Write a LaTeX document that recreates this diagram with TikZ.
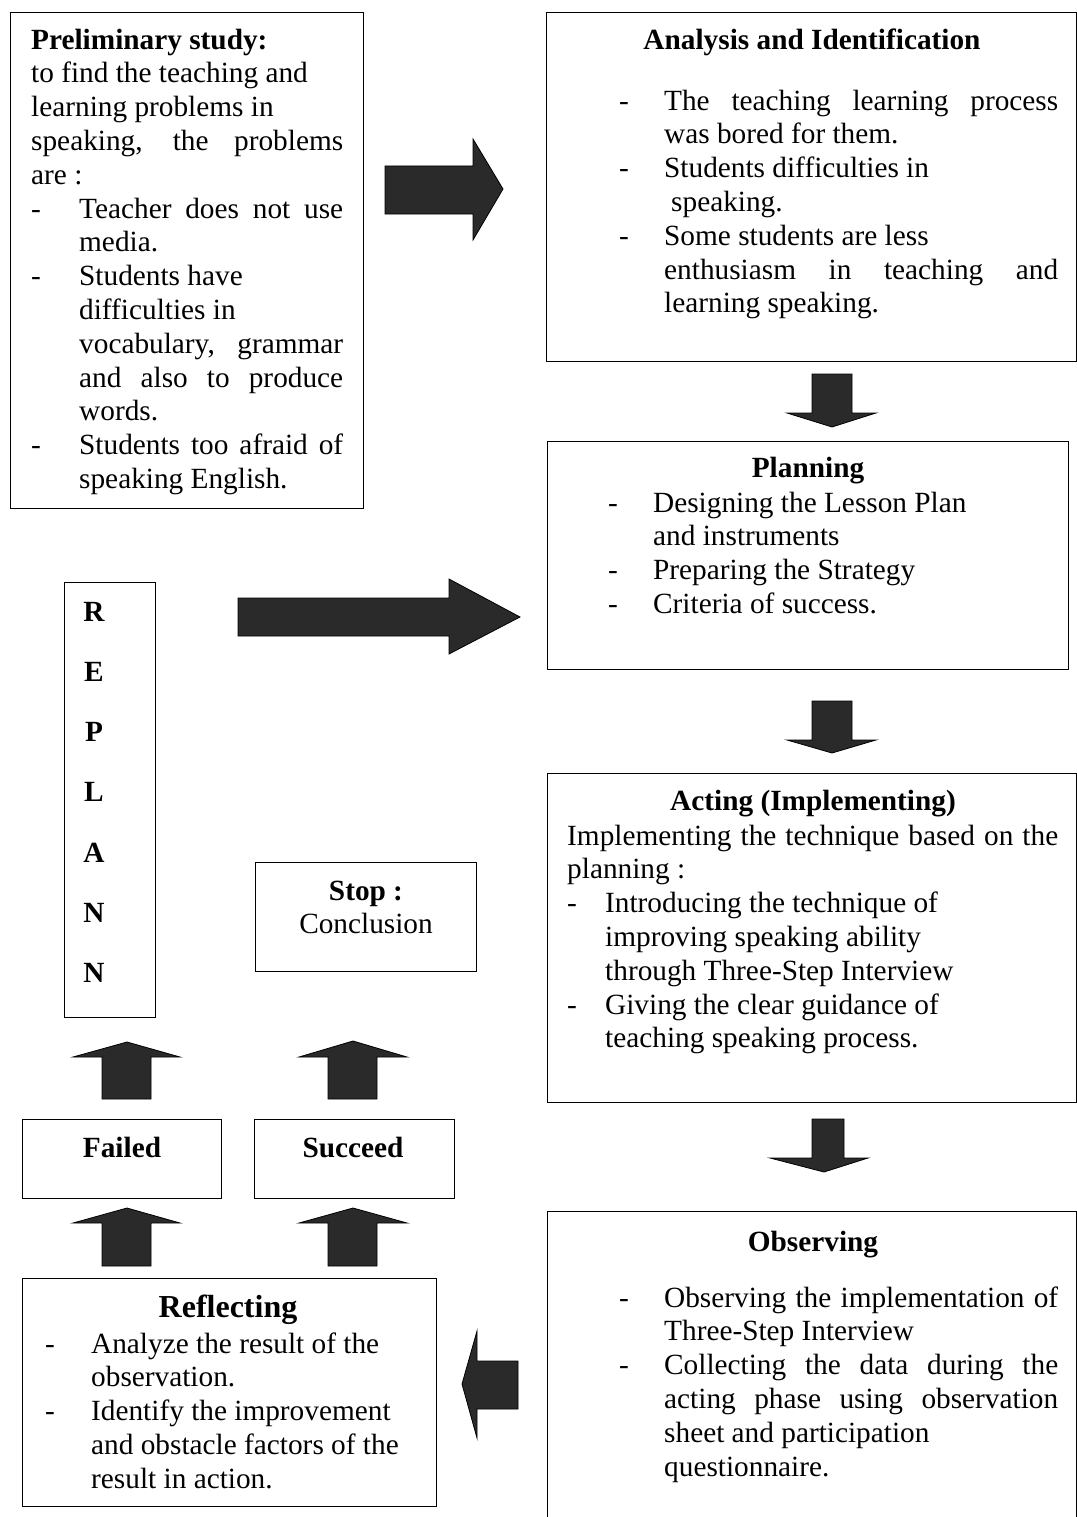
\documentclass[tikz,border=0pt]{standalone}
\usepackage{fontspec}
\setmainfont{Liberation Serif}
\usepackage{tikz}
\usetikzlibrary{positioning}
\definecolor{arrowgray}{RGB}{42,42,42}
\newcommand{\itemdash}[1][45pt]{\makebox[#1][l]{-}}
\newcommand{\fillline}[2]{\makebox[#1][s]{#2}}

\begin{document}
\begin{tikzpicture}[x=1pt, y=-1pt]
	\useasboundingbox (0,0) rectangle (1076,1517);

	% frames
	\begin{scope}[every node/.style={draw=black, line width=1.3pt, anchor=north west, inner sep=0pt}]
	    \node[minimum width=353pt, minimum height=496pt] (prelim) at (10,12) {};
	    \node[minimum width=530pt, minimum height=349pt] (analysis) at (546,12) {};
	    \node[minimum width=521pt, minimum height=228pt] (planning) at (547,441) {};
	    \node[minimum width=529pt, minimum height=329pt] (acting) at (547,773) {};
	    \node[minimum width=529pt, minimum height=320pt] (observing) at (547,1211) {};
	    \node[minimum width=91pt, minimum height=435pt] (replan) at (64,582) {};
	    \node[minimum width=221pt, minimum height=109pt] (stop) at (255,862) {};
	    \node[minimum width=199pt, minimum height=79pt] (failed) at (22,1119) {};
	    \node[minimum width=200pt, minimum height=79pt] (succeed) at (254,1119) {};
	    \node[minimum width=414pt, minimum height=228pt] (reflecting) at (22,1278) {};
	\end{scope}

	% headings
	\begin{scope}[every node/.style={font=\fontsize{29.3}{33.8}\selectfont\bfseries, anchor=base, inner sep=0pt}]
	    \node (analysishead) at (812,50) {Analysis and Identification};
	    \node (planninghead) at (808,477) {Planning};
	    \node (actinghead) at (813,810) {Acting (Implementing)};
	    \node (observinghead) at (813,1251) {Observing};
	    \node[font=\fontsize{32}{36}\selectfont\bfseries] (reflectinghead) at (228,1317) {Reflecting};
	    \node (failedhead) at (122,1157) {Failed};
	    \node (succeedhead) at (353,1157) {Succeed};
	\end{scope}

	% texts
	\begin{scope}[every node/.style={font=\fontsize{29.3}{33.8}\selectfont, align=left, anchor=north west, inner sep=0pt}]
	    \node (prelimtext) at (31,25.3) {\strut\textbf{Preliminary study:}\\
	        to find the teaching and\\
	        learning problems in\\
	        \fillline{312pt}{speaking, the problems}\\
	        are :\\
	        \itemdash[48pt]\fillline{264pt}{Teacher does not use}\\
	        \hspace*{48pt}media.\\
	        \itemdash[48pt]Students have\\
	        \hspace*{48pt}difficulties in\\
	        \hspace*{48pt}\fillline{264pt}{vocabulary, grammar}\\
	        \hspace*{48pt}\fillline{264pt}{and also to produce}\\
	        \hspace*{48pt}words.\\
	        \itemdash[48pt]\fillline{264pt}{Students too afraid of}\\
	        \hspace*{48pt}speaking English.};
	    \node (analysistext) at (619,86.3) {\strut\itemdash\fillline{394pt}{The teaching learning process}\\
	        \hspace*{45pt}was bored for them.\\
	        \itemdash Students difficulties in\\
	        \hspace*{52pt}speaking.\\
	        \itemdash Some students are less\\
	        \hspace*{45pt}\fillline{394pt}{enthusiasm in teaching and}\\
	        \hspace*{45pt}learning speaking.};
	    \node (planningtext) at (608,488.3) {\strut\itemdash Designing the Lesson Plan\\
	        \hspace*{45pt}and instruments\\
	        \itemdash Preparing the Strategy\\
	        \itemdash Criteria of success.};
	    \node (actingtext) at (567,821.3) {\strut\fillline{491pt}{Implementing the technique based on the}\\
	        planning :\\
	        \itemdash[38pt]Introducing the technique of\\
	        \hspace*{38pt}improving speaking ability\\
	        \hspace*{38pt}through Three-Step Interview\\
	        \itemdash[38pt]Giving the clear guidance of\\
	        \hspace*{38pt}teaching speaking process.};
	    \node (observingtext) at (619,1283.3) {\strut\itemdash\fillline{394pt}{Observing the implementation of}\\
	        \hspace*{45pt}Three-Step Interview\\
	        \itemdash\fillline{394pt}{Collecting the data during the}\\
	        \hspace*{45pt}\fillline{394pt}{acting phase using observation}\\
	        \hspace*{45pt}sheet and participation\\
	        \hspace*{45pt}questionnaire.};
	    \node (reflectingtext) at (45,1329.3) {\strut\itemdash[46pt]Analyze the result of the\\
	        \hspace*{46pt}observation.\\
	        \itemdash[46pt]Identify the improvement\\
	        \hspace*{46pt}and obstacle factors of the\\
	        \hspace*{46pt}result in action.};
	    \node[align=center, anchor=north] (stoptext) at (366,876.3) {\strut\textbf{Stop :}\\ Conclusion};
	    \node[font=\fontsize{29.3}{60.2}\selectfont\bfseries, align=center, anchor=north] (replantext) at (94,578.9)
	        {\strut R\\ E\\ P\\ L\\ A\\ N\\ N};
	\end{scope}

	% block arrows
	\begin{scope}[fill=arrowgray, draw=black, line width=0.8pt, line join=miter]
	    % preliminary -> analysis
	    \filldraw (385,166) -- (473,166) -- (473,139) -- (503,189) -- (473,240) -- (473,214) -- (385,214) -- cycle;
	    % replan -> planning
	    \filldraw (238,598) -- (449,598) -- (449,579) -- (520,617) -- (449,654) -- (449,636) -- (238,636) -- cycle;
	    % analysis -> planning -> acting -> observing
	    \filldraw (812,374) -- (852,374) -- (852,413) -- (876,413) -- (832,427) -- (787,413) -- (812,413) -- cycle;
	    \filldraw (812,701) -- (852,701) -- (852,740) -- (876,740) -- (832,753) -- (787,740) -- (812,740) -- cycle;
	    \filldraw (812,1119) -- (844,1119) -- (844,1158) -- (868,1158) -- (824,1172) -- (770,1158) -- (812,1158) -- cycle;
	    % observing -> reflecting
	    \filldraw (518,1361) -- (518,1409) -- (477,1409) -- (477,1438) -- (462,1384) -- (477,1331) -- (477,1361) -- cycle;
	    % reflecting -> failed / succeed
	    \filldraw (102,1266) -- (102,1223) -- (73,1223) -- (127,1208) -- (180,1223) -- (151,1223) -- (151,1266) -- cycle;
	    \filldraw (328,1266) -- (328,1223) -- (299,1223) -- (353,1208) -- (407,1223) -- (377,1223) -- (377,1266) -- cycle;
	    % failed -> replan, succeed -> stop
	    \filldraw (102,1099) -- (102,1057) -- (73,1057) -- (127,1042) -- (180,1057) -- (151,1057) -- (151,1099) -- cycle;
	    \filldraw (328,1099) -- (328,1057) -- (299,1057) -- (353,1041) -- (407,1057) -- (377,1057) -- (377,1099) -- cycle;
	\end{scope}
\end{tikzpicture}
\end{document}
